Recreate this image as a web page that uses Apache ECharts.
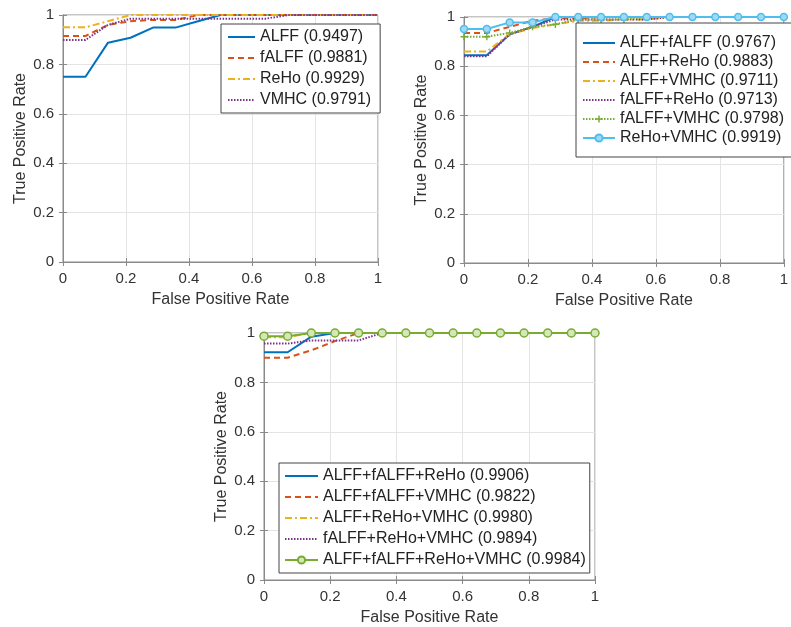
<!DOCTYPE html>
<html>
<head>
<meta charset="utf-8">
<script src="https://cdn.jsdelivr.net/npm/echarts@6/dist/echarts.min.js"></script>
<style>
  html, body { margin: 0; padding: 0; background: #fff; }
  #main { width: 791px; height: 627px; }
</style>
</head>
<body>
<div id="main"></div>
<script>
  // false positive rate steps (shared by all curves)
  const fpr = [0, 0.0714, 0.1429, 0.2143, 0.2857, 0.3571, 0.4286, 0.5, 0.5714, 0.6429, 0.7143, 0.7857, 0.8571, 0.9286, 1]
  const tickValues = [0, 0.2, 0.4, 0.6, 0.8, 1]
  const tickLabels = ['0', '0.2', '0.4', '0.6', '0.8', '1']

  // single features
  const alff  = [0.75, 0.75, 0.888, 0.908, 0.949, 0.949, 0.975, 1, 1, 1, 1, 1, 1, 1, 1]
  const falff = [0.915, 0.915, 0.96, 0.975, 0.98, 0.98, 1, 1, 1, 1, 1, 1, 1, 1, 1]
  const reho  = [0.95, 0.95, 0.975, 1, 1, 1, 1, 1, 1, 1, 1, 1, 1, 1, 1]
  const vmhc  = [0.899, 0.899, 0.96, 0.985, 0.985, 0.985, 0.985, 0.985, 0.985, 0.985, 1, 1, 1, 1, 1]

  // pairs
  const alffFalff = [0.845, 0.845, 0.93, 0.96, 1, 1, 1, 1, 1, 1, 1, 1, 1, 1, 1]
  const alffReho  = [0.935, 0.935, 0.96, 0.985, 0.995, 0.995, 1, 1, 1, 1, 1, 1, 1, 1, 1]
  const alffVmhc  = [0.86, 0.86, 0.93, 0.955, 0.97, 0.985, 0.985, 0.99, 0.99, 1, 1, 1, 1, 1, 1]
  const falffReho = [0.84, 0.84, 0.93, 0.96, 0.99, 0.99, 0.99, 0.99, 0.99, 1, 1, 1, 1, 1, 1]
  const falffVmhc = [0.92, 0.92, 0.935, 0.96, 0.97, 0.99, 0.99, 0.99, 1, 1, 1, 1, 1, 1, 1]
  const rehoVmhc  = [0.951, 0.951, 0.978, 0.978, 1, 1, 1, 1, 1, 1, 1, 1, 1, 1, 1]

  // triples and all four
  const alffFalffReho = [0.922, 0.922, 0.985, 1, 1, 1, 1, 1, 1, 1, 1, 1, 1, 1, 1]
  const alffFalffVmhc = [0.9, 0.9, 0.93, 0.967, 1, 1, 1, 1, 1, 1, 1, 1, 1, 1, 1]
  const alffRehoVmhc  = [0.983, 0.983, 1, 1, 1, 1, 1, 1, 1, 1, 1, 1, 1, 1, 1]
  const falffRehoVmhc = [0.957, 0.957, 0.97, 0.97, 0.97, 1, 1, 1, 1, 1, 1, 1, 1, 1, 1]
  const allFour       = [0.987, 0.987, 1, 1, 1, 1, 1, 1, 1, 1, 1, 1, 1, 1, 1]

  const names1 = ['ALFF (0.9497)', 'fALFF (0.9881)', 'ReHo (0.9929)', 'VMHC (0.9791)']
  const names2 = ['ALFF+fALFF (0.9767)', 'ALFF+ReHo (0.9883)', 'ALFF+VMHC (0.9711)',
    'fALFF+ReHo (0.9713)', 'fALFF+VMHC (0.9798)', 'ReHo+VMHC (0.9919)']
  const names3 = ['ALFF+fALFF+ReHo (0.9906)', 'ALFF+fALFF+VMHC (0.9822)', 'ALFF+ReHo+VMHC (0.9980)',
    'fALFF+ReHo+VMHC (0.9894)', 'ALFF+fALFF+ReHo+VMHC (0.9984)']
  // legend entries that carry a marker
  const withMarker = ['fALFF+VMHC (0.9798)', 'ReHo+VMHC (0.9919)', 'ALFF+fALFF+ReHo+VMHC (0.9984)']

  const BLUE = '#0072BD', ORANGE = '#D95319', YELLOW = '#EDB120'
  const PURPLE = '#7E2F8E', GREEN = '#77AC30', CYAN = '#4DBEEE'
  const FONT = 'Liberation Sans, Arial, sans-serif'

  const solid = 'solid'
  const dashed = [6, 4]
  const dashDot = [7, 3, 2, 3]
  const dotted = [1.5, 1.5]
  const plus = 'path://M4,0h2v4h4v2h-4v4h-2v-4h-4v-2h4z'

  const grids = [
    { left: 63, top: 15, width: 315, height: 247 },
    { left: 464, top: 17, width: 326, height: 246 },
    { left: 264, top: 333, width: 331, height: 247 }
  ]

  function fmt(v) {
    const i = tickValues.indexOf(Math.round(v * 10) / 10)
    return i >= 0 ? tickLabels[i] : ''
  }

  const xAxis = []
  const yAxis = []
  grids.forEach((g, i) => {
    xAxis.push({
      type: 'value', gridIndex: i, min: 0, max: 1, interval: 0.2,
      axisLine: { lineStyle: { color: '#8a8a8a' } },
      axisTick: { inside: true, length: 4, lineStyle: { color: '#8a8a8a' } },
      splitLine: { lineStyle: { color: '#e4e4e4' } },
      axisLabel: { fontSize: 15, color: '#333', margin: 9, fontFamily: FONT, formatter: fmt },
      name: 'False Positive Rate', nameLocation: 'middle', nameGap: 30,
      nameTextStyle: { fontSize: 16, color: '#333', fontFamily: FONT }
    })
    yAxis.push({
      type: 'value', gridIndex: i, min: 0, max: 1, interval: 0.2,
      axisLine: { lineStyle: { color: '#8a8a8a' } },
      axisTick: { inside: true, length: 4, lineStyle: { color: '#8a8a8a' } },
      splitLine: { lineStyle: { color: '#e4e4e4' } },
      axisLabel: { fontSize: 15, color: '#333', margin: 9, fontFamily: FONT, formatter: fmt },
      name: 'True Positive Rate', nameLocation: 'middle', nameGap: 34,
      nameTextStyle: { fontSize: 16, color: '#333', fontFamily: FONT }
    })
  })
  // box axes on top / right with inward ticks
  grids.forEach((g, i) => {
    xAxis.push({
      type: 'value', gridIndex: i, position: 'top', min: 0, max: 1, interval: 0.2,
      axisLine: { lineStyle: { color: '#8a8a8a' } },
      axisTick: { inside: true, length: 4, lineStyle: { color: '#8a8a8a' } },
      axisLabel: { show: false }, splitLine: { show: false }
    })
    yAxis.push({
      type: 'value', gridIndex: i, position: 'right', min: 0, max: 1, interval: 0.2,
      axisLine: { lineStyle: { color: '#8a8a8a' } },
      axisTick: { inside: true, length: 4, lineStyle: { color: '#8a8a8a' } },
      axisLabel: { show: false }, splitLine: { show: false }
    })
  })

  function curve(name, values, gi, color, type, marker) {
    const s = {
      name: name,
      type: 'line',
      xAxisIndex: gi,
      yAxisIndex: gi,
      data: fpr.map((x, k) => [x, values[k]]),
      lineStyle: { color: color, width: 2, type: type },
      itemStyle: { color: color },
      symbol: 'none',
      animation: false
    }
    if (marker) {
      s.symbol = marker.symbol
      s.symbolSize = marker.size
      s.itemStyle = marker.style
    }
    return s
  }

  const series = [
    curve(names1[0], alff, 0, BLUE, solid),
    curve(names1[1], falff, 0, ORANGE, dashed),
    curve(names1[2], reho, 0, YELLOW, dashDot),
    curve(names1[3], vmhc, 0, PURPLE, dotted),

    curve(names2[0], alffFalff, 1, BLUE, solid),
    curve(names2[1], alffReho, 1, ORANGE, dashed),
    curve(names2[2], alffVmhc, 1, YELLOW, dashDot),
    curve(names2[3], falffReho, 1, PURPLE, dotted),
    curve(names2[4], falffVmhc, 1, GREEN, dotted, { symbol: plus, size: 7, style: { color: GREEN } }),
    curve(names2[5], rehoVmhc, 1, CYAN, solid,
      { symbol: 'circle', size: 7, style: { color: '#9fd9f3', borderColor: CYAN, borderWidth: 1.5 } }),

    curve(names3[0], alffFalffReho, 2, BLUE, solid),
    curve(names3[1], alffFalffVmhc, 2, ORANGE, dashed),
    curve(names3[2], alffRehoVmhc, 2, YELLOW, dashDot),
    curve(names3[3], falffRehoVmhc, 2, PURPLE, dotted),
    curve(names3[4], allFour, 2, GREEN, solid,
      { symbol: 'circle', size: 8, style: { color: '#d3e7b8', borderColor: GREEN, borderWidth: 1.5 } })
  ]

  function legend(names, left, top, itemWidth, itemGap, padding) {
    return {
      data: names.map(n => withMarker.includes(n) ? { name: n } : { name: n, itemStyle: { opacity: 0 } }),
      orient: 'vertical', left: left, top: top,
      itemWidth: itemWidth, itemHeight: 9, itemGap: itemGap,
      padding: padding, backgroundColor: '#fff',
      borderColor: '#444', borderWidth: 1, borderRadius: 0,
      selectedMode: false,
      lineStyle: { width: 2 },
      textStyle: { fontSize: 16, color: '#222', fontFamily: FONT }
    }
  }

  const option = {
    backgroundColor: '#fff',
    animation: false,
    grid: grids.map(g => Object.assign({ show: true, borderColor: '#8a8a8a', borderWidth: 1 }, g)),
    xAxis: xAxis,
    yAxis: yAxis,
    legend: [
      legend(names1, 221, 24, 27, 5, [5, 9, 5, 6]),
      legend(names2, 576, 23, 32, 3, [12, 20, 11, 6]),
      legend(names3, 279, 463, 33, 5, [5, 4, 5, 5])
    ],
    series: series
  }

  const myChart = echarts.init(document.getElementById('main'))
  myChart.setOption(option)
  window.onresize = () => {
    myChart.resize()
  }
</script>
</body>
</html>
